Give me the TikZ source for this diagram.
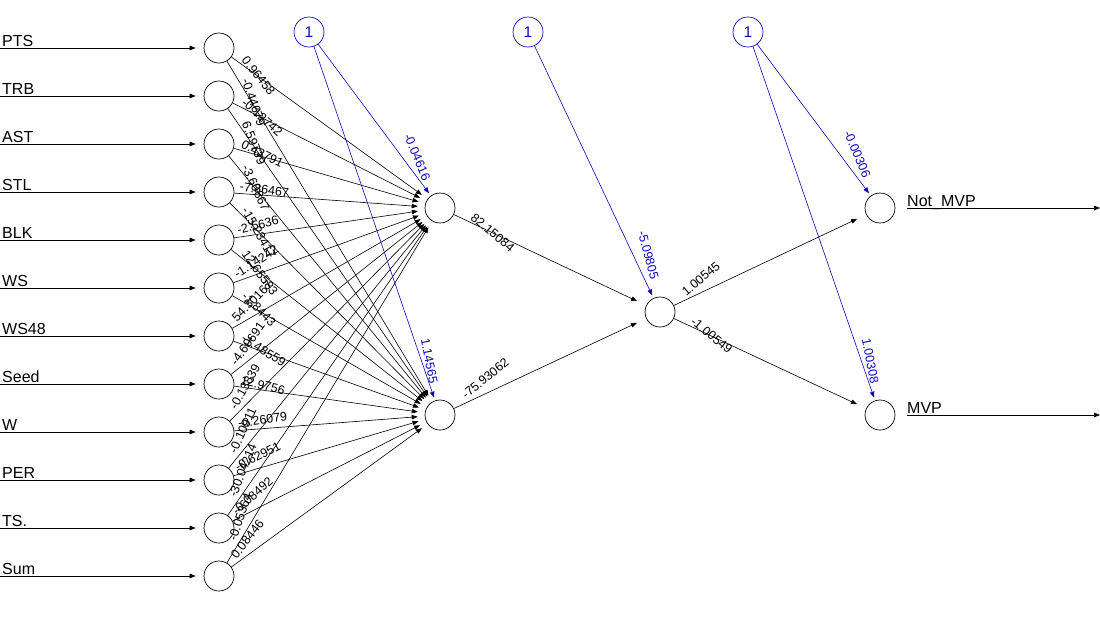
\documentclass[tikz,border=0pt]{standalone}
\usepackage{fontspec}
\setmainfont{Liberation Sans}
\usetikzlibrary{arrows.meta,calc}
\definecolor{biasblue}{RGB}{10,10,190}

\begin{document}
\begin{tikzpicture}[x=1pt,y=-1pt,
  neuron/.style={circle,draw,line width=0.7pt,minimum size=30pt,inner sep=0pt},
  bias/.style={neuron,draw=biasblue,text=biasblue,font=\fontsize{15.5}{18}\selectfont},
  edge/.style={-{Triangle[length=6pt,width=4.5pt]},line width=0.6pt},
  bedge/.style={edge,biasblue,shorten >=3pt},
  wt/.style={anchor=south west,inner xsep=0pt,inner ysep=2.5pt,font=\fontsize{12.5}{14}\selectfont},
  varlabel/.style={anchor=base west,inner sep=0pt,font=\fontsize{16}{18}\selectfont}
]
\useasboundingbox (0,0) rectangle (1100,625);
% hidden and output layers
\node[neuron] (h1) at (440,208) {};
\node[neuron] (h2) at (440,415) {};
\node[neuron] (h3) at (660,312) {};
\node[neuron] (o1) at (880,208) {};
\node[neuron] (o2) at (880,415) {};
% bias nodes
\node[bias] (b1) at (309,32) {1};
\node[bias] (b2) at (528,32) {1};
\node[bias] (b3) at (748,32) {1};
% input layer: name / weight to h1 / weight to h2
\foreach \nm/\wa/\wb [count=\i] in {PTS/0.96458/-0.44679, TRB/-0.12742/6.59739,
    AST/0.43791/-3.60867, STL/-7.86467/-15.23417, BLK/-2.5636/12.65583,
    WS/-1.14242/-1.8443, WS48/54.30167/-1.48559, Seed/-4.60691/12.9756,
    W/-0.13839/-0.26079, PER/-0.10911/-0.62951, TS./-30.04214/-0.08492,
    Sum/-0.05364/0.08446}{
  \node[neuron] (i\i) at (219,48*\i) {};
  \coordinate (s\i) at (0,48*\i);
  \draw[edge,shorten >=8pt] (s\i) -- (i\i);
  \node[varlabel] at (2,48*\i-2) {\nm};
  \draw[edge,shorten >=7pt] (i\i) -- (h1);
  \draw[edge,shorten >=7pt] (i\i) -- (h2);
  \path let \p1=($(h1)-(i\i)$) in
    node[wt,rotate={atan2(1.76*\y1,\x1)}] at ($(i\i)!0.09!(h1)$) {\wa};
  \path let \p1=($(h2)-(i\i)$) in
    node[wt,rotate={atan2(1.76*\y1,\x1)}] at ($(i\i)!0.09!(h2)$) {\wb};
}
% hidden to hidden to output
\draw[edge,shorten >=10pt] (h1) -- (h3);
\draw[edge,shorten >=10pt] (h2) -- (h3);
\draw[edge,shorten >=10pt] (h3) -- (o1);
\draw[edge,shorten >=10pt] (h3) -- (o2);
\foreach \a/\b/\w in {h1/h3/82.15084, h2/h3/-75.93062, h3/o1/1.00545, h3/o2/-1.00549}
  \path let \p1=($(\b)-(\a)$) in
    node[wt,rotate={atan2(1.76*\y1,\x1)}] at ($(\a)!0.127!(\b)$) {\w};
% bias edges
\draw[bedge] (b1) -- (h1);
\draw[bedge] (b1) -- (h2);
\draw[bedge] (b2) -- (h3);
\draw[bedge] (b3) -- (o1);
\draw[bedge] (b3) -- (o2);
\foreach \a/\b/\w/\dx/\dy in {b1/h1/-0.04616/-39/-71, b1/h2/1.14565/-22/-75,
    b2/h3/-5.09805/-25/-79, b3/o1/-0.00306/-39/-74, b3/o2/1.00308/-21/-75}
  \path let \p1=($(\b)-(\a)$) in
    node[wt,text=biasblue,rotate={atan2(1.76*\y1,\x1)}] at ($(\b)+(\dx,\dy)$) {\w};
% outputs
\coordinate (e1) at (1100,208);
\coordinate (e2) at (1100,415);
\draw[edge,shorten <=12pt] (o1) -- (e1);
\draw[edge,shorten <=12pt] (o2) -- (e2);
\node[varlabel] at (907,206) {Not\_MVP};
\node[varlabel] at (907,413) {MVP};
\end{tikzpicture}
\end{document}
